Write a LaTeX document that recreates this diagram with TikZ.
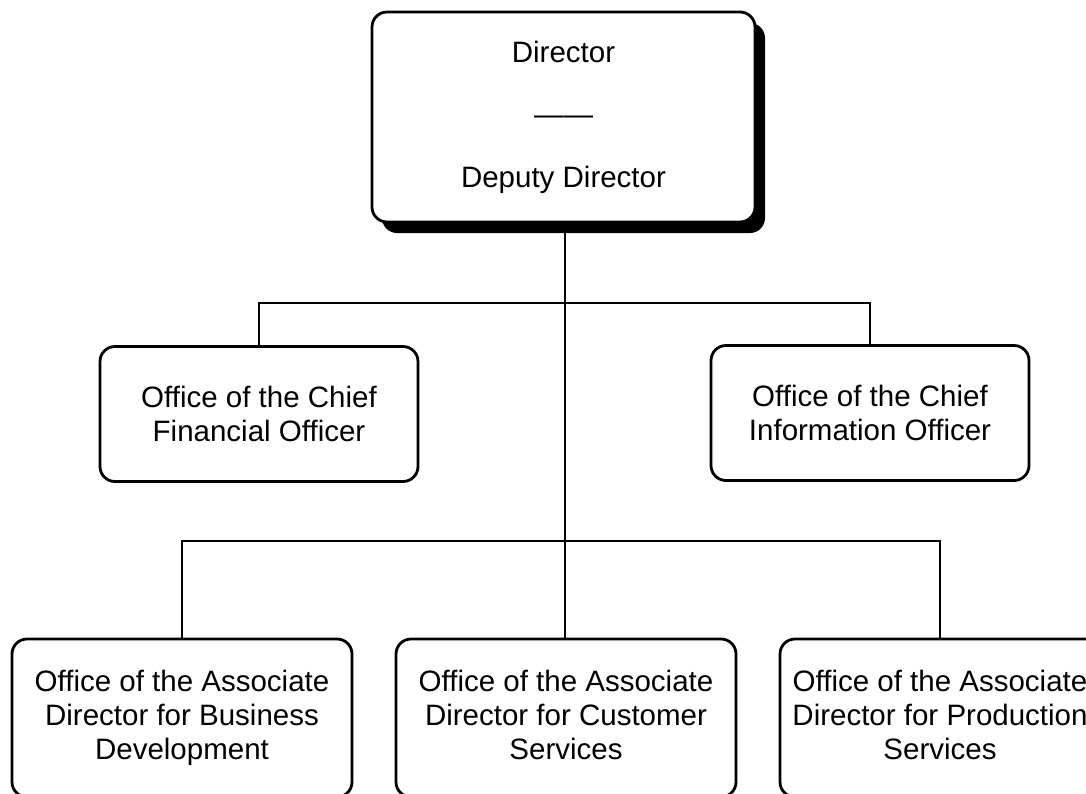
\documentclass[tikz,border=0pt]{standalone}
\usepackage{fontspec}
\setmainfont{Liberation Sans}
\usetikzlibrary{shadows}
\tikzset{
  orgbox/.style={draw=black, line width=2.8pt, fill=white, rounded corners=15pt,
    align=center, inner sep=0pt, font=\fontsize{29.5}{34}\selectfont},
  topbox/.style={orgbox, minimum width=383pt, minimum height=210pt,
    font=\fontsize{29.5}{62.5}\selectfont,
    general shadow={fill=black, shadow xshift=10pt, shadow yshift=-11pt}},
  midbox/.style={orgbox, minimum width=318pt, minimum height=135pt},
  lowbox/.style={orgbox, minimum width=340pt, minimum height=158pt},
  link/.style={draw=black, line width=2.6pt}
}
\begin{document}
\begin{tikzpicture}[x=1pt, y=-1pt]
\useasboundingbox (0,0) rectangle (1086,793);
\clip (0,0) rectangle (1086,793);
\node[topbox] (top) at (563.5,117) {Director\\——\\Deputy Director};
\node[midbox] (cfo) at (259,414) {Office of the Chief\\Financial Officer};
\node[midbox] (cio) at (870,413) {Office of the Chief\\Information Officer};
\node[lowbox] (bd) at (182,718) {Office of the Associate\\Director for Business\\Development};
\node[lowbox] (cs) at (566,718) {Office of the Associate\\Director for Customer\\Services\vphantom{p}};
\node[lowbox, minimum width=320pt] (ps) at (940,718) {Office of the Associate\\Director for Production\\Services\vphantom{p}};
\coordinate (b1) at (565,303);
\coordinate (b2) at (565,541);
\draw[link] (top.south -| b1) -- (cs.north -| b1);
\draw[link] (cfo.north) |- (b1) -| (cio.north);
\draw[link] (bd.north) |- (b2) -| (ps.north);
\end{tikzpicture}
\end{document}
